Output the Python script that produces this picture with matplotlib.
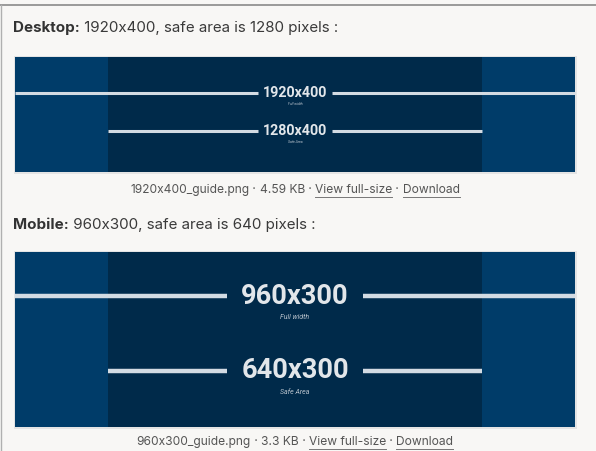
import matplotlib.pyplot as plt
from matplotlib.patches import Rectangle

# page content
titles_bold = ['Desktop:', 'Mobile:']
titles_rest = [' 1920x400, safe area is 1280 pixels :', ' 960x300, safe area is 640 pixels :']
full_labels = ['1920x400', '960x300']
safe_labels = ['1280x400', '640x300']
full_sub = 'Full width'
safe_sub = 'Safe Area'
file_names = ['1920x400_guide.png', '960x300_guide.png']
file_sizes = ['4.59 KB', '3.3 KB']
full_w = [1920, 960]
safe_w = [1280, 640]

# layout in page pixels
W, H = 596, 451
title_y = [28, 225]
banner_top = [57, 252]
banner_bot = [172, 427]
full_y = [93, 296]
safe_y = [131, 371]
caption_y = [190, 442]
label_size = [10.3, 19.6]
sub_size = [2.5, 5]
gap = [37, 68]
bx0, bx1 = 15, 575

BG = '#f8f7f5'
OUTER = '#003c69'
INNER = '#002a4a'
LINE = '#d3dbe3'
TXT = '#333333'
PAGE_FONT = 'Inter'

fig = plt.figure(figsize=(W / 100, H / 100), dpi=100, facecolor=BG)
ax = fig.add_axes([0, 0, 1, 1])
ax.set_xlim(0, W)
ax.set_ylim(H, 0)
ax.axis('off')
ax.set_facecolor(BG)

# page frame
ax.plot([0, W], [5, 5], color='#8a8a8a', lw=1.2)
ax.plot([1, 1], [5, H], color='#b0b0b0', lw=1.0)

fig.canvas.draw()
renderer = fig.canvas.get_renderer()
inv = ax.transData.inverted()


def text_width(t):
    bb = t.get_window_extent(renderer)
    p0 = inv.transform((bb.x0, bb.y0))
    p1 = inv.transform((bb.x1, bb.y0))
    return p1[0] - p0[0]


for i in range(2):
    # heading
    t = ax.text(13, title_y[i], titles_bold[i], fontsize=10.9, fontweight='bold',
                family=PAGE_FONT, color=TXT, va='center', ha='left')
    x = 13 + text_width(t)
    ax.text(x, title_y[i], titles_rest[i], fontsize=10.9, family=PAGE_FONT,
            color='#3a3a3a', va='center', ha='left')

    # banner
    y0, y1 = banner_top[i], banner_bot[i]
    ax.add_patch(Rectangle((bx0 - 1.5, y0 - 1.5), bx1 - bx0 + 3, y1 - y0 + 3,
                           facecolor='#e4e4e4', edgecolor='none'))
    ax.add_patch(Rectangle((bx0, y0), bx1 - bx0, y1 - y0, facecolor=OUTER, edgecolor='none'))
    scale = (bx1 - bx0) / full_w[i]
    sw = safe_w[i] * scale
    cx = (bx0 + bx1) / 2
    sx0, sx1 = cx - sw / 2, cx + sw / 2
    ax.add_patch(Rectangle((sx0, y0), sw, y1 - y0, facecolor=INNER, edgecolor='none'))

    lw = 2.2 if i == 0 else 3.2
    for yy, xa, xb, lab, sub in [(full_y[i], bx0, bx1, full_labels[i], full_sub),
                                 (safe_y[i], sx0, sx1, safe_labels[i], safe_sub)]:
        ax.plot([xa, cx - gap[i]], [yy, yy], color=LINE, lw=lw, solid_capstyle='butt')
        ax.plot([cx + gap[i], xb], [yy, yy], color=LINE, lw=lw, solid_capstyle='butt')
        ax.text(cx, yy, lab, fontsize=label_size[i], fontweight='bold', family='Roboto',
                color='#e2e6ea', ha='center', va='center')
        off = 11 if i == 0 else 21
        ax.text(cx, yy + off, sub, fontsize=sub_size[i], style='italic', family='Roboto',
                color='#b8c2cc', ha='center', va='center')

    # caption with links
    pieces = [(file_names[i], False), (' \u00b7 ', False), (file_sizes[i], False),
              (' \u00b7 ', False), ('View full-size', True), (' \u00b7 ', False),
              ('Download', True)]
    tmp = [ax.text(0, caption_y[i], p, fontsize=8.65, family=PAGE_FONT) for p, _ in pieces]
    widths = [text_width(t) for t in tmp]
    for t in tmp:
        t.remove()
    x = cx - sum(widths) / 2
    for (p, link), w in zip(pieces, widths):
        ax.text(x, caption_y[i], p, fontsize=8.65, family=PAGE_FONT, color='#555555',
                va='center', ha='left')
        if link:
            ax.plot([x, x + w], [caption_y[i] + 6.5, caption_y[i] + 6.5], color='#777777', lw=0.7)
        x += w

fig.savefig('out.png', dpi=100, facecolor=BG)
